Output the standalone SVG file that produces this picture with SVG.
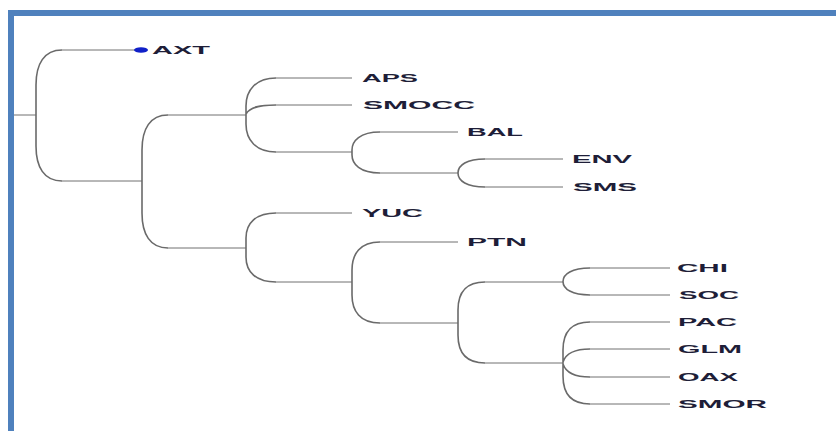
<svg xmlns="http://www.w3.org/2000/svg" width="836" height="431" viewBox="0 0 836 431">
<style>
.br{fill:none;stroke:#6a6a6a;stroke-width:1.6}
.hl{fill:none;stroke:#707070;stroke-width:1}
.lb{font-family:"Liberation Sans",Arial,sans-serif;font-size:10px;font-weight:bold;fill:#1e1e38}
.frame{fill:#4f81bd}
</style>
<rect width="836" height="431" fill="#ffffff"/>
<rect class="frame" x="8" y="10" width="828" height="6"/>
<rect class="frame" x="8" y="10" width="6" height="421"/>
<g id="connectors">
<path class="hl" d="M14,115 H36"/>
<path class="br" d="M62,50 C44,50 36,64 36,85 L36,146 C36,167 44,181 62,181"/>
<path class="hl" d="M62,50 H136 M62,181 H142"/>
<path class="br" d="M168,115 C150,115 142,129 142,150 L142,213 C142,234 150,248 168,248"/>
<path class="hl" d="M168,115 H246 M168,248 H246"/>
<path class="br" d="M276,78 C256,78 246,90 246,106 L246,124 C246,140 256,152 276,152 M246,114 C250,107 260,105 276,105"/>
<path class="hl" d="M276,78 H352 M276,105 H352 M276,152 H352"/>
<path class="br" d="M380,132 C360,132 352,141 352,150 L352,155 C352,164 360,173 380,173"/>
<path class="hl" d="M380,132 H458 M380,173 H458"/>
<path class="br" d="M485,159 C467,159 458,165 458,173 C458,181 467,187 485,187"/>
<path class="hl" d="M485,159 H563 M485,187 H563"/>
<path class="br" d="M276,213 C256,213 246,223 246,238 L246,257 C246,272 256,282 276,282"/>
<path class="hl" d="M276,213 H352 M276,282 H352"/>
<path class="br" d="M380,242 C360,242 352,254 352,270 L352,295 C352,311 360,323 380,323"/>
<path class="hl" d="M380,242 H458 M380,323 H458"/>
<path class="br" d="M485,282 C465,282 458,294 458,310 L458,335 C458,351 465,363 485,363"/>
<path class="hl" d="M485,282 H563 M485,363 H563"/>
<path class="br" d="M590,268 C572,268 563,274 563,281.5 C563,289 572,295 590,295"/>
<path class="hl" d="M590,268 H670 M590,295 H670"/>
<path class="br" d="M590,322 C570,322 563,334 563,350 L563,376 C563,392 570,404 590,404 M563,362 C566,353 575,349 590,349 M563,364 C566,373 575,377 590,377"/>
<path class="hl" d="M590,322 H670 M590,349 H670 M590,377 H670 M590,404 H670"/>
</g>
<g id="AXT"><ellipse cx="141" cy="50" rx="7" ry="2.8" fill="#1020c8"/><text class="lb" x="152" y="53.5" textLength="58" lengthAdjust="spacingAndGlyphs">AXT</text></g>
<g id="APS"><text class="lb" x="362" y="81.5" textLength="56" lengthAdjust="spacingAndGlyphs">APS</text></g>
<g id="SMOCC"><text class="lb" x="363" y="108.5" textLength="112" lengthAdjust="spacingAndGlyphs">SMOCC</text></g>
<g id="BAL"><text class="lb" x="467" y="135.5" textLength="56" lengthAdjust="spacingAndGlyphs">BAL</text></g>
<g id="ENV"><text class="lb" x="572" y="162.5" textLength="60" lengthAdjust="spacingAndGlyphs">ENV</text></g>
<g id="SMS"><text class="lb" x="573" y="190.5" textLength="64" lengthAdjust="spacingAndGlyphs">SMS</text></g>
<g id="YUC"><text class="lb" x="362" y="216.5" textLength="61" lengthAdjust="spacingAndGlyphs">YUC</text></g>
<g id="PTN"><text class="lb" x="467" y="245.5" textLength="60" lengthAdjust="spacingAndGlyphs">PTN</text></g>
<g id="CHI"><text class="lb" x="677" y="271.5" textLength="51" lengthAdjust="spacingAndGlyphs">CHI</text></g>
<g id="SOC"><text class="lb" x="679" y="298.5" textLength="60" lengthAdjust="spacingAndGlyphs">SOC</text></g>
<g id="PAC"><text class="lb" x="678" y="325.5" textLength="59" lengthAdjust="spacingAndGlyphs">PAC</text></g>
<g id="GLM"><text class="lb" x="678" y="352.5" textLength="64" lengthAdjust="spacingAndGlyphs">GLM</text></g>
<g id="OAX"><text class="lb" x="678" y="380.5" textLength="60" lengthAdjust="spacingAndGlyphs">OAX</text></g>
<g id="SMOR"><text class="lb" x="678" y="407.5" textLength="89" lengthAdjust="spacingAndGlyphs">SMOR</text></g>
</svg>
